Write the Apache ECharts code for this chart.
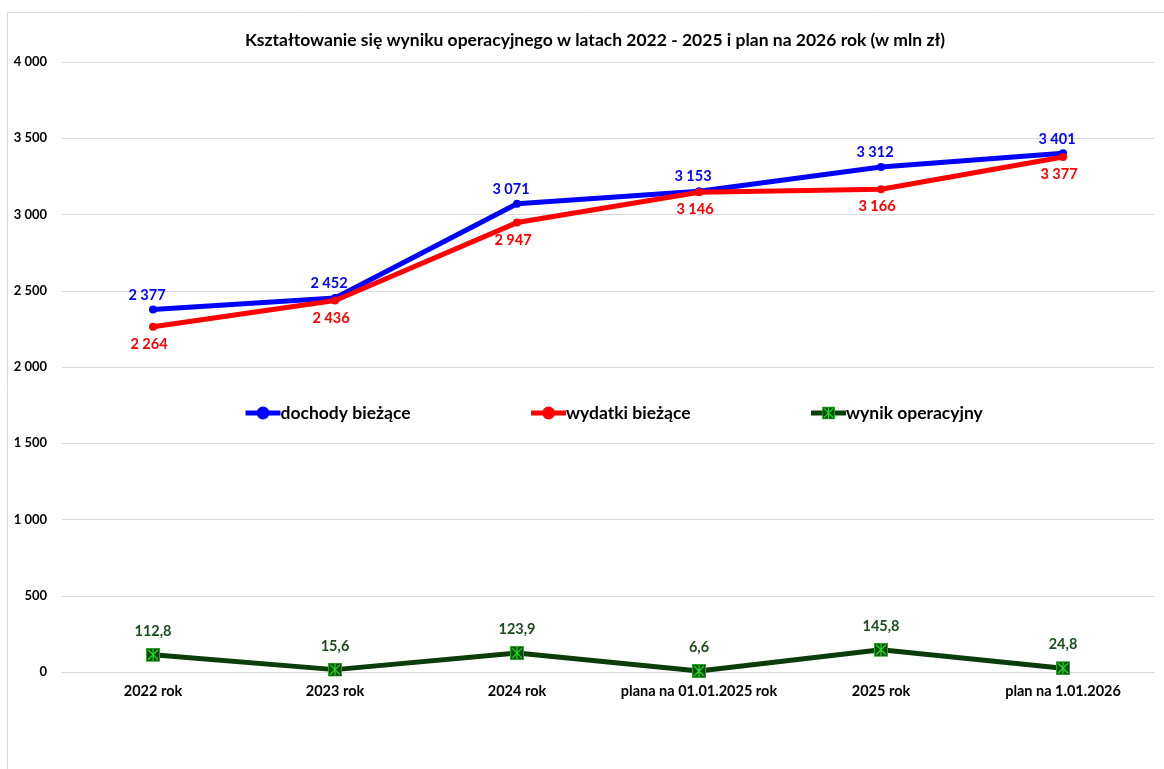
<!DOCTYPE html>
<html>
<head>
<meta charset="utf-8">
<script src="https://cdn.jsdelivr.net/npm/echarts@6/dist/echarts.min.js"></script>
<style>
  html, body { margin: 0; padding: 0; background: #fff; }
  #main { width: 1164px; height: 769px; }
</style>
</head>
<body>
<div id="main"></div>
<script>
// dane wykresu
const categories = ['2022 rok', '2023 rok', '2024 rok', 'plana na 01.01.2025 rok', '2025 rok', 'plan na 1.01.2026']
const dochody = [2377, 2452, 3071, 3153, 3312, 3401]
const wydatki = [2264, 2436, 2947, 3146, 3166, 3377]
const wynik = [112.8, 15.6, 123.9, 6.6, 145.8, 24.8]
const seriesNames = ['dochody bieżące', 'wydatki bieżące', 'wynik operacyjny']

const font = 'Lato, "Open Sans", sans-serif'

// format 2 377 / 112,8
function fmtInt(v) {
  return String(Math.round(v)).replace(/\B(?=(\d{3})+(?!\d))/g, ' ')
}
function fmtDec(v) {
  return v.toFixed(1).replace('.', ',')
}

// znacznik: ciemny kwadrat z zielonym X
const markerSvg = '<svg xmlns="http://www.w3.org/2000/svg" width="14" height="14" viewBox="0 0 14 14">' +
  '<rect x="0.5" y="0.5" width="13" height="13" fill="#0b4a0b" stroke="#1faa1f" stroke-width="1"/>' +
  '<path d="M2 2L12 12M12 2L2 12M7 1L7 13" stroke="#22dd22" stroke-width="1.2"/></svg>'
const markerSymbol = 'image://data:image/svg+xml;charset=utf-8,' + encodeURIComponent(markerSvg)

const myChart = echarts.init(document.getElementById('main'))
const option = {
  backgroundColor: '#fff',
  animation: false,
  title: {
    text: 'Kształtowanie się wyniku operacyjnego w latach 2022 - 2025 i plan na 2026 rok (w mln zł)',
    left: 590,
    textAlign: 'center',
    top: 26,
    textStyle: { fontFamily: font, fontSize: 17.5, fontWeight: 'bold', color: '#000' }
  },
  graphic: [
    {
      type: 'rect',
      shape: { x: 7.5, y: 12.5, width: 1170, height: 770 },
      style: { fill: null, stroke: '#d9d9d9', lineWidth: 1 },
      silent: true
    }
  ],
  legend: {
    left: 243,
    top: 404,
    padding: 0,
    itemWidth: 35,
    itemHeight: 16,
    itemGap: 118,
    data: seriesNames,
    lineStyle: { width: 5 },
    textStyle: { fontFamily: font, fontSize: 17.5, fontWeight: 'bold', color: '#000', padding: [0, 0, 0, -5] }
  },
  grid: {
    left: 62,
    right: 10,
    top: 62,
    bottom: 97,
    containLabel: false
  },
  xAxis: {
    type: 'category',
    data: categories,
    boundaryGap: true,
    axisLine: { lineStyle: { color: '#d9d9d9', width: 1 } },
    axisTick: { show: false },
    axisLabel: {
      margin: 12,
      fontFamily: font,
      fontSize: 14.5,
      fontWeight: 'bold',
      color: '#000',
      interval: 0
    }
  },
  yAxis: {
    type: 'value',
    min: 0,
    max: 4000,
    interval: 500,
    axisLine: { show: false },
    axisTick: { show: false },
    splitLine: { lineStyle: { color: '#d9d9d9', width: 1 } },
    axisLabel: {
      margin: 15,
      fontFamily: font,
      fontSize: 13,
      fontWeight: 'bold',
      color: '#000',
      formatter: fmtInt
    }
  },
  series: [
    {
      name: seriesNames[0],
      type: 'line',
      data: dochody,
      symbol: 'circle',
      symbolSize: 8,
      itemStyle: { color: '#0000ff' },
      lineStyle: { color: '#0000ff', width: 5 },
      z: 3,
      label: {
        show: true,
        position: 'top',
        distance: 3,
        offset: [-6, 0],
        formatter: p => fmtInt(p.value),
        fontFamily: font,
        fontSize: 14.5,
        fontWeight: 'bold',
        color: '#0000ff'
      }
    },
    {
      name: seriesNames[1],
      type: 'line',
      data: wydatki,
      symbol: 'circle',
      symbolSize: 8,
      itemStyle: { color: '#ff0000' },
      lineStyle: { color: '#ff0000', width: 5 },
      z: 4,
      label: {
        show: true,
        position: 'bottom',
        distance: 6,
        offset: [-4, 0],
        formatter: p => fmtInt(p.value),
        fontFamily: font,
        fontSize: 14.5,
        fontWeight: 'bold',
        color: '#ff0000'
      }
    },
    {
      name: seriesNames[2],
      type: 'line',
      data: wynik,
      symbol: markerSymbol,
      symbolSize: 14,
      itemStyle: { color: '#0b4a0b' },
      lineStyle: { color: '#0b3d0b', width: 5 },
      z: 5,
      label: {
        show: true,
        position: 'top',
        distance: 9,
        formatter: p => fmtDec(p.value),
        fontFamily: font,
        fontSize: 14.5,
        fontWeight: 'bold',
        color: '#1b4d1b'
      }
    }
  ]
}
myChart.setOption(option)
</script>
</body>
</html>
